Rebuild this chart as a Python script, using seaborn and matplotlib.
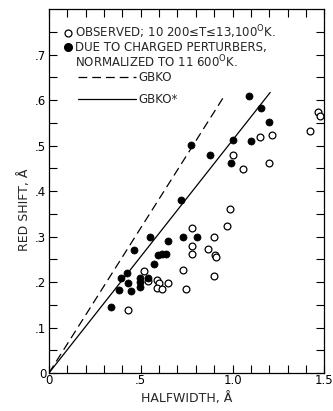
import numpy as np
import pandas as pd
import seaborn as sns
import matplotlib.pyplot as plt
from matplotlib.lines import Line2D

# filled points: due to charged perturbers, normalized to 11600 K
filled_x = [0.34, 0.382, 0.391, 0.423, 0.43, 0.448, 0.495, 0.495, 0.497, 0.54,
            0.462, 0.57, 0.593, 0.617, 0.638, 0.647, 0.548, 0.731, 0.806, 0.719,
            0.776, 0.878, 0.991, 1.004, 1.098, 1.09, 1.157, 1.197]
filled_y = [0.145, 0.182, 0.21, 0.219, 0.199, 0.181, 0.21, 0.2, 0.19, 0.21,
            0.27, 0.24, 0.26, 0.262, 0.262, 0.291, 0.30, 0.30, 0.30, 0.38,
            0.501, 0.48, 0.461, 0.512, 0.51, 0.609, 0.582, 0.552]

# open points: observed
open_x = [0.432, 0.518, 0.539, 0.586, 0.598, 0.59, 0.618, 0.648, 0.731, 0.745,
          0.901, 0.78, 0.78, 0.78, 0.869, 0.898, 0.903, 0.91, 0.968, 0.987,
          1.0, 1.057, 1.147, 1.217, 1.197, 1.42, 1.466, 1.475]
open_y = [0.138, 0.224, 0.203, 0.204, 0.199, 0.187, 0.184, 0.199, 0.227, 0.184,
          0.214, 0.319, 0.28, 0.261, 0.272, 0.30, 0.26, 0.256, 0.324, 0.361,
          0.48, 0.449, 0.518, 0.524, 0.462, 0.532, 0.574, 0.565]

# theory lines (through origin)
gbko_x = [0.0, 0.958]
gbko_slope = 0.638
gbko_star_x = [0.0, 1.205]
gbko_star_slope = 0.512

x_ticks = [0, 0.5, 1.0, 1.5]
x_tick_labels = ['0', '.5', '1.0', '1.5']
y_ticks = [0, 0.1, 0.2, 0.3, 0.4, 0.5, 0.6, 0.7]
y_tick_labels = ['0', '.1', '.2', '.3', '.4', '.5', '.6', '.7']

sns.set_style("ticks")
plt.rcParams['font.family'] = ['DejaVu Sans']

fig = plt.figure(figsize=(3.33, 4.11), dpi=100)
ax = fig.add_axes([0.147, 0.0925, 0.827, 0.885])

gbko = pd.DataFrame({'x': gbko_x})
gbko['y'] = gbko['x'] * gbko_slope
gbko_star = pd.DataFrame({'x': gbko_star_x})
gbko_star['y'] = gbko_star['x'] * gbko_star_slope

sns.lineplot(data=gbko, x='x', y='y', color='black', linewidth=0.9,
             linestyle=(0, (7, 4)), ax=ax)
sns.lineplot(data=gbko_star, x='x', y='y', color='black', linewidth=0.9, ax=ax)

sns.scatterplot(x=open_x, y=open_y, marker='o', s=24, color='white',
                edgecolor='black', linewidth=0.9, ax=ax, zorder=3)
sns.scatterplot(x=filled_x, y=filled_y, marker='o', s=26, color='black',
                edgecolor='black', linewidth=0.5, ax=ax, zorder=3)

ax.set_xlim(0, 1.5)
ax.set_ylim(0, 0.8)
ax.set_xticks(x_ticks)
ax.set_xticklabels(x_tick_labels)
ax.set_xticks(np.arange(0, 1.51, 0.1), minor=True)
ax.set_yticks(y_ticks)
ax.set_yticklabels(y_tick_labels)
ax.set_yticks(np.arange(0, 0.8, 0.05), minor=True)
ax.tick_params(which='both', direction='in', top=True, right=True,
               length=6, width=0.8, labelsize=8.5, colors='black')
ax.tick_params(axis='x', which='both', pad=1)
ax.tick_params(axis='y', which='both', pad=2)
for s in ax.spines.values():
    s.set_linewidth(0.9)
    s.set_color('black')

ax.set_xlabel('HALFWIDTH, Å', fontsize=9, labelpad=3)
ax.set_ylabel('RED SHIFT, Å', fontsize=9)
ax.yaxis.set_label_coords(-0.065, 0.45)

# legend, markers
h_open = Line2D([], [], marker='o', ls='', mfc='white', mec='black', ms=5, mew=0.9)
h_fill = Line2D([], [], marker='o', ls='', mfc='black', mec='black', ms=5.5)
h_none = Line2D([], [], ls='')
leg1 = ax.legend(handles=[h_open, h_fill, h_none],
                 labels=['OBSERVED; 10 200≤T≤13,100$^\\mathrm{O}$K.',
                         'DUE TO CHARGED PERTURBERS,',
                         'NORMALIZED TO 11 600$^\\mathrm{O}$K.'],
                 loc='upper left', bbox_to_anchor=(0.04, 0.975), frameon=False,
                 handlelength=0.6, handletextpad=0.3, borderaxespad=0,
                 labelspacing=0.0, fontsize=8.5)
ax.add_artist(leg1)

# legend, lines
h_dash = Line2D([], [], color='black', lw=0.9, ls=(0, (7, 4)))
h_solid = Line2D([], [], color='black', lw=0.9)
ax.legend(handles=[h_dash, h_solid], labels=['GBKO', 'GBKO*'],
          loc='upper left', bbox_to_anchor=(0.09, 0.842), frameon=False,
          handlelength=4.9, handletextpad=0.2, borderaxespad=0,
          labelspacing=0.7, fontsize=8.5)

fig.savefig('out.png', dpi=100)
